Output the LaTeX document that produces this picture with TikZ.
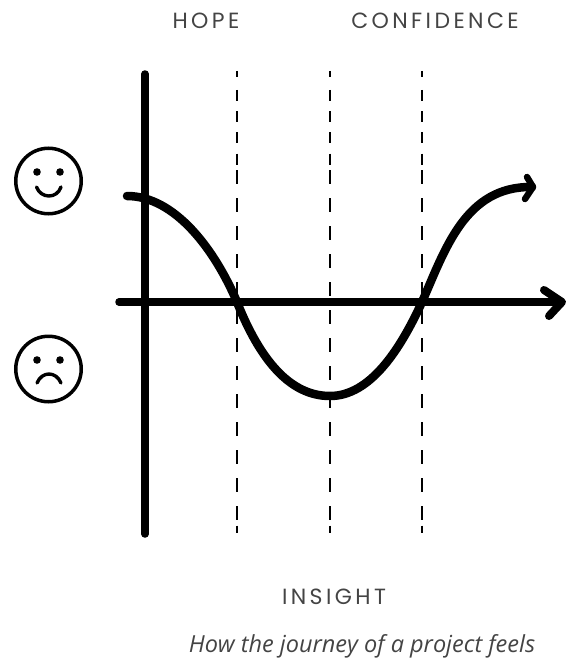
\documentclass[tikz,border=0pt]{standalone}
\usepackage{fontspec}
\setmainfont{PT Sans}
\newfontfamily\capsfont[LetterSpace=15.5]{Poppins}
\newfontfamily\capfont[ItalicFont=Open Sans Italic]{Open Sans}
\definecolor{labelgray}{HTML}{444444}
\tikzset{
  axisline/.style={line width=7.5pt,line cap=round,line join=round,black},
  curveline/.style={line width=8.5pt,line cap=round,line join=round,black},
  guide/.style={line width=1.4pt,black},
  guidetop/.style={guide,dash pattern=on 6.5pt off 12.5pt on 11pt off 10.2pt on 11pt off 10.2pt on 11pt off 10.2pt on 11pt off 50pt},
  guidemain/.style={guide,dash pattern=on 14pt off 14pt},
  faceoutline/.style={line width=3.5pt,black},
  facemouth/.style={line width=3.4pt,line cap=round,black},
  stagelabel/.style={text=labelgray,font=\capsfont\fontsize{22}{24}\selectfont,inner sep=0pt},
  captionlabel/.style={text=labelgray,font=\capfont\itshape\fontsize{23.5}{26}\selectfont,inner sep=0pt,anchor=base}
}
\begin{document}
\begin{tikzpicture}[x=1pt,y=-1pt]
\useasboundingbox (0,0) rectangle (566,658);
\foreach \xx in {237,330,422}{
  \draw[guidetop] (\xx,71) -- (\xx,165);
  \draw[guidemain] (\xx,170) -- (\xx,520);
  \draw[guide] (\xx,525.5) -- (\xx,533);
}
% curve
\draw[curveline] (127,196) .. controls (175,196) and (215,250) .. (237,302)
  .. controls (260,360) and (290,396) .. (330,396)
  .. controls (370,396) and (400,350) .. (422,302)
  .. controls (445,250) and (465,186) .. (532,187);
\draw[curveline,line width=6.5pt] (527,177) -- (533,187) -- (525,199);
% axes
\draw[axisline] (145,74) -- (145,534);
\draw[axisline] (119,302) -- (561,302);
\draw[axisline,line width=8pt] (544,290) -- (562,302) -- (549,316);
% happy face
\node[circle,draw,faceoutline,minimum size=65.5pt,inner sep=0pt] (happy) at (48.5,181) {};
\fill (37,172) circle (3.8pt) (60,172) circle (3.8pt);
\draw[facemouth] (36.5,187) .. controls (41,199) and (57,199) .. (61,187);
% sad face
\node[circle,draw,faceoutline,minimum size=65.5pt,inner sep=0pt] (sad) at (48.5,369) {};
\fill (37,360) circle (3.8pt) (60,360) circle (3.8pt);
\draw[facemouth] (37,383) .. controls (42,371) and (56,371) .. (61,383);
% labels
\node[stagelabel] (hope) at (206,21) {HOPE};
\node[stagelabel] (confidence) at (435,21) {CONFIDENCE};
\node[stagelabel] (insight) at (334,597) {INSIGHT};
\node[captionlabel] (caption) at (362,652) {How the journey of a project feels};
\end{tikzpicture}
\end{document}
